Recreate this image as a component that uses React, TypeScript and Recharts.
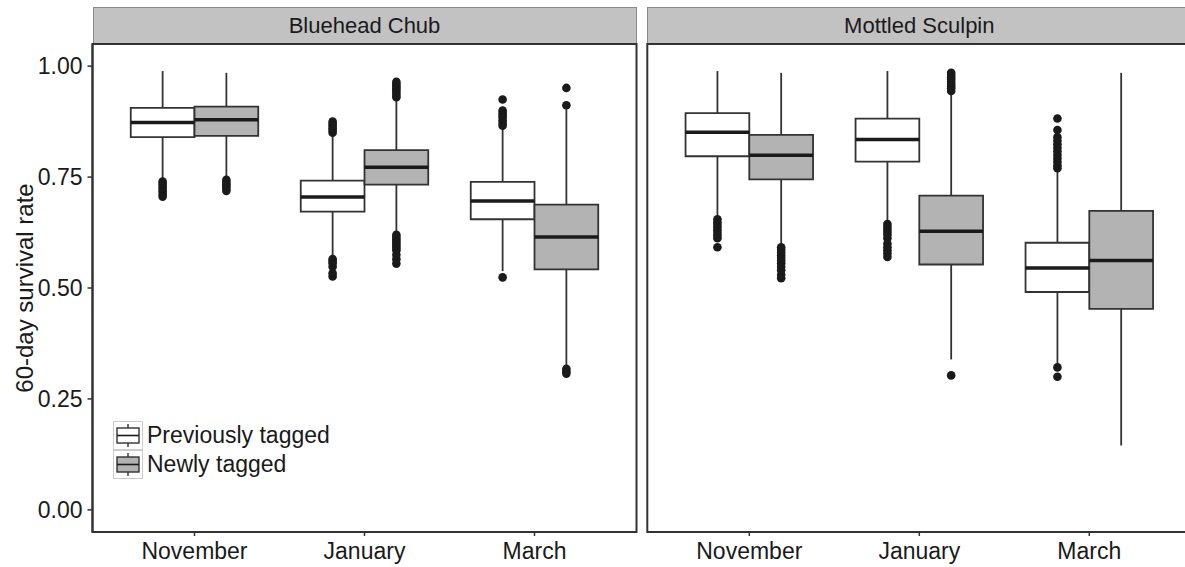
import React from 'react';
import { ComposedChart, XAxis, YAxis, Scatter, ReferenceArea, ReferenceLine, Legend } from 'recharts';

const months = ['November', 'January', 'March'];
const groups = ['Previously tagged', 'Newly tagged'];
const groupFills = ['#ffffff', '#b3b3b3'];
const yTicks = [0, 0.25, 0.5, 0.75, 1];

// box stats per month: [lower whisker, Q1, median, Q3, upper whisker]
const chubPrevious = [
  [0.744, 0.84, 0.873, 0.906, 0.989],
  [0.571, 0.672, 0.705, 0.742, 0.845],
  [0.538, 0.655, 0.696, 0.739, 0.86],
];
const chubNew = [
  [0.749, 0.843, 0.879, 0.909, 0.985],
  [0.625, 0.733, 0.772, 0.811, 0.924],
  [0.324, 0.542, 0.615, 0.688, 0.905],
];
const sculpinPrevious = [
  [0.658, 0.797, 0.851, 0.894, 0.989],
  [0.648, 0.785, 0.835, 0.882, 0.989],
  [0.328, 0.491, 0.545, 0.602, 0.766],
];
const sculpinNew = [
  [0.595, 0.745, 0.799, 0.845, 0.985],
  [0.339, 0.553, 0.628, 0.708, 0.94],
  [0.145, 0.453, 0.562, 0.674, 0.985],
];

// outliers per month
const chubPreviousOut = [
  [0.74, 0.735, 0.73, 0.724, 0.718, 0.712, 0.706],
  [0.875, 0.87, 0.865, 0.86, 0.855, 0.85, 0.565, 0.56, 0.555, 0.548, 0.533, 0.526],
  [0.925, 0.9, 0.895, 0.89, 0.885, 0.878, 0.872, 0.866, 0.524],
];
const chubNewOut = [
  [0.744, 0.739, 0.734, 0.729, 0.724, 0.719],
  [0.965, 0.96, 0.955, 0.95, 0.945, 0.94, 0.935, 0.93, 0.62, 0.615, 0.61, 0.605, 0.6, 0.595, 0.59, 0.585, 0.575, 0.565, 0.555],
  [0.951, 0.912, 0.318, 0.312, 0.307],
];
const sculpinPreviousOut = [
  [0.655, 0.648, 0.642, 0.636, 0.63, 0.624, 0.618, 0.612, 0.592],
  [0.644, 0.638, 0.632, 0.626, 0.62, 0.612, 0.6, 0.592, 0.585, 0.578, 0.57],
  [0.882, 0.856, 0.84, 0.832, 0.824, 0.816, 0.808, 0.8, 0.792, 0.784, 0.776, 0.77, 0.321, 0.3],
];
const sculpinNewOut = [
  [0.592, 0.586, 0.58, 0.574, 0.568, 0.562, 0.556, 0.548, 0.54, 0.53, 0.522],
  [0.985, 0.98, 0.975, 0.97, 0.965, 0.96, 0.955, 0.95, 0.944, 0.303],
  [],
];

const FONT = '"Liberation Sans", Arial, Helvetica, sans-serif';
const INK = '#1a1a1a';
const LINE = '#333333';
const OFFSET = 0.1875; // dodge offset from the month tick
const HALF = 0.1875; // half box width

const tickStyle = { fontSize: 23, fill: INK, fontFamily: FONT };

const Dot = (props: any) => <circle cx={props.cx} cy={props.cy} r={4.3} fill={INK} />;

const AxisTitle = (props: any) => {
  const vb = props.viewBox || { x: 0, y: 44, width: 92, height: 488 };
  const x = 33;
  const y = vb.y + vb.height / 2;
  return (
    <text x={x} y={y} transform={`rotate(-90, ${x}, ${y})`} textAnchor="middle"
      fontSize={24} fill={INK} fontFamily={FONT}>
      60-day survival rate
    </text>
  );
};

const LegendKey = ({ fill }: { fill: string }) => (
  <svg width={30} height={29} style={{ display: 'block' }}>
    <rect x={0.5} y={0.5} width={29} height={28} fill="#fff" stroke="#cccccc" />
    <line x1={15} x2={15} y1={3} y2={26} stroke={LINE} strokeWidth={1.4} />
    <rect x={4} y={7} width={22} height={15} fill={fill} stroke={LINE} strokeWidth={1.4} />
    <line x1={4} x2={26} y1={14.5} y2={14.5} stroke={INK} strokeWidth={1.6} />
  </svg>
);

const LegendBox = () => (
  <div style={{ fontFamily: FONT, fontSize: 23, color: INK }}>
    {groups.map((g, i) => (
      <div key={g} style={{ display: 'flex', alignItems: 'center', height: 29 }}>
        <LegendKey fill={groupFills[i]} />
        <span style={{ marginLeft: 4, lineHeight: '29px' }}>{g}</span>
      </div>
    ))}
  </div>
);

interface PanelProps {
  title: string;
  stats: number[][][];
  outliers: number[][][];
  left: number;
  width: number;
  margin: { top: number; right: number; bottom: number; left: number };
  showY: boolean;
  stripLeft: number;
}

const Panel = ({ title, stats, outliers, left, width, margin, showY, stripLeft }: PanelProps) => {
  const points: { x: number; y: number }[] = [];
  outliers.forEach((byMonth, gi) =>
    byMonth.forEach((vals, mi) =>
      vals.forEach((v) => points.push({ x: mi + 1 + (gi === 0 ? -OFFSET : OFFSET), y: v }))
    )
  );

  const boxes: { x: number; s: number[]; fill: string; key: string }[] = [];
  stats.forEach((byMonth, gi) =>
    byMonth.forEach((s, mi) =>
      boxes.push({ x: mi + 1 + (gi === 0 ? -OFFSET : OFFSET), s, fill: groupFills[gi], key: `${gi}-${mi}` })
    )
  );

  return (
    <div style={{ position: 'absolute', left, top: 0, width, height: 567 }}>
      <div
        style={{
          position: 'absolute', left: stripLeft, top: 7, width: 544, height: 37,
          background: '#c2c2c2', borderTop: '1px solid #8a8a8a', borderLeft: '1px solid #8a8a8a',
          borderRight: '1px solid #8a8a8a', boxSizing: 'border-box', display: 'flex',
          alignItems: 'center', justifyContent: 'center', fontFamily: FONT, fontSize: 22, color: INK,
        }}
      >
        {title}
      </div>
      <ComposedChart width={width} height={567} margin={margin}>
        <XAxis
          type="number" dataKey="x" domain={[0.4, 3.6]} ticks={[1, 2, 3]} interval={0}
          allowDataOverflow tickFormatter={(v: number) => months[Math.round(v) - 1]}
          tick={tickStyle} tickSize={4} tickMargin={7} height={30}
          axisLine={{ stroke: LINE, strokeWidth: 2 }} tickLine={{ stroke: LINE, strokeWidth: 1.5 }}
        />
        <YAxis
          type="number" dataKey="y" domain={[-0.05, 1.05]} ticks={yTicks} interval={0}
          allowDataOverflow hide={!showY} width={92.5}
          tickFormatter={(v: number) => v.toFixed(2)} tick={tickStyle} tickSize={5} tickMargin={5}
          axisLine={{ stroke: LINE, strokeWidth: 2 }} tickLine={{ stroke: LINE, strokeWidth: 1.5 }}
          label={showY ? { content: <AxisTitle /> } : undefined}
        />
        <ReferenceArea x1={0.4} x2={3.6} y1={-0.05} y2={1.05} ifOverflow="visible"
          fill="none" fillOpacity={0} stroke={LINE} strokeWidth={2} />
        {boxes.map((b) => (
          <ReferenceLine key={`wu-${b.key}`} segment={[{ x: b.x, y: b.s[3] }, { x: b.x, y: b.s[4] }]}
            stroke={LINE} strokeWidth={1.8} ifOverflow="visible" />
        ))}
        {boxes.map((b) => (
          <ReferenceLine key={`wl-${b.key}`} segment={[{ x: b.x, y: b.s[0] }, { x: b.x, y: b.s[1] }]}
            stroke={LINE} strokeWidth={1.8} ifOverflow="visible" />
        ))}
        {boxes.map((b) => (
          <ReferenceArea key={`b-${b.key}`} x1={b.x - HALF} x2={b.x + HALF} y1={b.s[1]} y2={b.s[3]}
            fill={b.fill} fillOpacity={1} stroke={LINE} strokeWidth={1.8} ifOverflow="visible" />
        ))}
        {boxes.map((b) => (
          <ReferenceLine key={`m-${b.key}`} segment={[{ x: b.x - HALF, y: b.s[2] }, { x: b.x + HALF, y: b.s[2] }]}
            stroke={INK} strokeWidth={3.5} ifOverflow="visible" />
        ))}
        <Scatter data={points} shape={Dot} isAnimationActive={false} legendType="none" />
        {showY && (
          <Legend layout="vertical" align="center" verticalAlign="middle"
            wrapperStyle={{ left: 113, top: 421, width: 260, height: 58 }}
            content={() => <LegendBox />} />
        )}
      </ComposedChart>
    </div>
  );
};

const App = () => (
  <div style={{ position: 'absolute', left: 0, top: 0, width: 1185, height: 567, overflow: 'hidden', background: '#fff' }}>
    <Panel
      title="Bluehead Chub"
      stats={[chubPrevious, chubNew]}
      outliers={[chubPreviousOut, chubNewOut]}
      left={0}
      width={640}
      margin={{ top: 44, right: 3.5, bottom: 5, left: 0 }}
      showY
      stripLeft={92.5}
    />
    <Panel
      title="Mottled Sculpin"
      stats={[sculpinPrevious, sculpinNew]}
      outliers={[sculpinPreviousOut, sculpinNewOut]}
      left={640}
      width={560}
      margin={{ top: 44, right: 8.7, bottom: 5, left: 7.3 }}
      showY={false}
      stripLeft={7.3}
    />
  </div>
);

export default App;
